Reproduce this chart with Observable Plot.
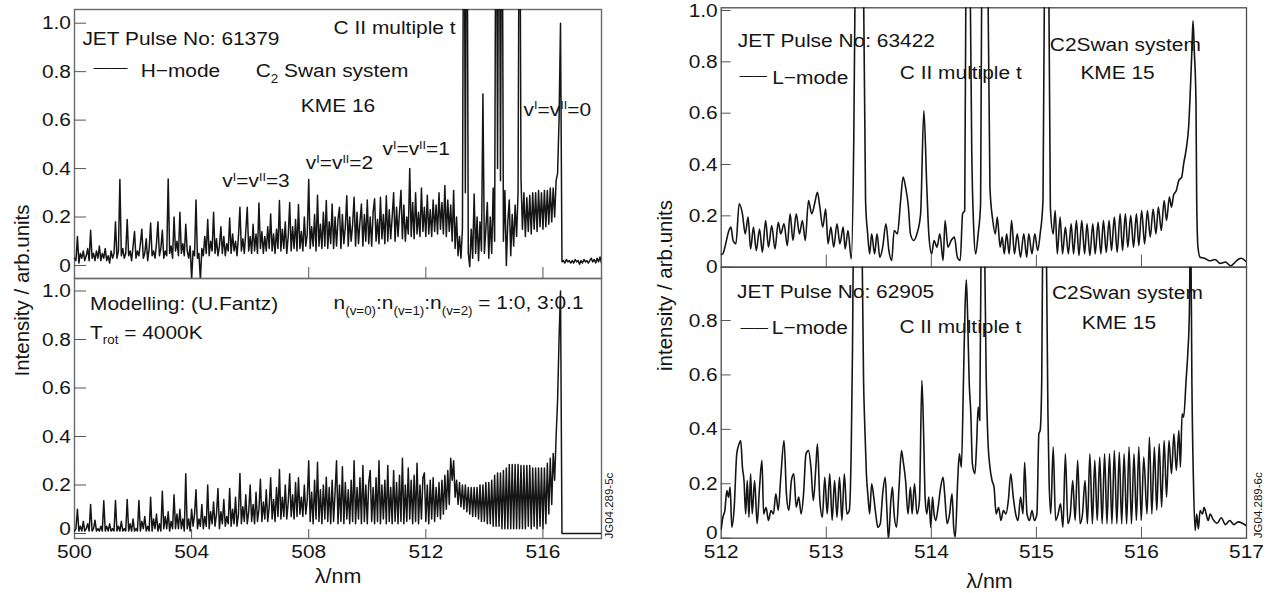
<!DOCTYPE html>
<html><head><meta charset="utf-8">
<script src="https://cdn.jsdelivr.net/npm/d3@7"></script>
<script src="https://cdn.jsdelivr.net/npm/@observablehq/plot@0.6"></script>
<style>
html,body{margin:0;padding:0;background:#fff;}
#chart{position:relative;width:1283px;height:593px;overflow:hidden;background:#fff;}
#chart svg{position:absolute;left:0;top:0;}
</style></head><body><div id="chart"></div>
<script>
// ---------- data ----------
// H-mode spectrum, JET pulse 61379 (sampled every 0.05 nm from 500 nm)
const hmodeStart = 500, hmodeStep = 0.05;
const hmode61379 = [
0.03,0.02,0.12,0.01,0.05,0.03,0.06,0.02,0.04,0.07,0.02,0.145,0.03,0.05,0.02,0.06,0.03,0.08,0.02,0.05,
0.03,0.07,0.02,0.04,0.01,0.06,0.03,0.05,0.18,0.03,0.06,0.355,0.04,0.07,0.03,0.05,0.19,0.04,0.06,0.02,
0.08,0.14,0.03,0.06,0.04,0.09,0.15,0.03,0.05,0.11,0.02,0.07,0.175,0.04,0.06,0.03,0.09,0.18,0.04,0.07,
0.145,0.03,0.06,0.04,0.357,0.05,0.08,0.03,0.20,0.06,0.10,0.04,0.22,0.05,0.09,0.04,0.17,0.06,0.03,0.08,
-0.055,0.06,0.04,0.27,0.03,0.05,-0.06,0.07,0.04,0.12,0.05,0.19,0.04,0.10,0.06,0.22,0.05,0.11,0.04,0.08,
0.16,0.05,0.12,0.04,0.09,0.06,0.196,0.05,0.13,0.06,0.10,0.04,0.12,0.24,0.06,0.11,0.05,0.14,0.24,0.06,
0.12,0.05,0.17,0.06,0.13,0.05,0.258,0.07,0.14,0.05,0.12,0.06,0.16,0.07,0.213,0.06,0.13,0.05,0.15,0.07,
0.268,0.06,0.15,0.07,0.18,0.05,0.12,0.26,0.06,0.16,0.07,0.19,0.06,0.252,0.07,0.14,0.06,0.20,0.08,0.13,
0.355,0.07,0.16,0.08,0.21,0.06,0.29,0.08,0.17,0.07,0.22,0.08,0.268,0.07,0.18,0.09,0.254,0.07,0.20,0.08,
0.19,0.24,0.07,0.21,0.09,0.16,0.288,0.08,0.20,0.10,0.17,0.282,0.08,0.22,0.09,0.18,0.254,0.08,0.21,0.10,
0.27,0.09,0.20,0.08,0.22,0.275,0.10,0.19,0.09,0.282,0.11,0.21,0.09,0.288,0.10,0.23,0.11,0.20,0.30,0.10,
0.24,0.12,0.22,0.31,0.11,0.25,0.10,0.20,0.13,0.40,0.12,0.26,0.11,0.30,0.13,0.22,0.12,0.32,0.14,0.24,
0.12,0.29,0.13,0.23,0.12,0.27,0.14,0.25,0.13,0.30,0.15,0.26,0.13,0.33,0.12,0.27,0.14,0.25,0.10,0.31,
0.07,0.20,0.04,0.12,0.03,0.15,2.0,0.30,2.0,0.05,-0.005,0.15,0.03,0.295,0.05,0.20,0.02,0.18,0.06,0.708,
0.05,0.15,0.26,0.03,0.20,0.05,0.32,0.10,2.0,0.40,2.0,0.35,2.0,0.10,0.31,0.0,0.18,0.27,0.04,0.21,
0.08,0.25,0.12,0.30,2.0,0.36,0.15,0.30,0.12,0.28,0.14,0.29,0.13,0.30,0.15,0.30,0.14,0.31,0.16,0.30,
0.15,0.31,0.16,0.31,0.17,0.32,0.18,0.32,0.20,0.35,0.38,0.60,1.0,0.015,0.02,0.01,0.025,0.015,0.02,0.01,
0.02,0.01,0.025,0.015,0.02,0.005,0.02,0.01,0.025,0.015,0.02,0.01,0.02,0.03,0.015,0.025,0.01,0.03,0.015,0.035,
0.01];

// Modelled spectrum (U.Fantz), sampled every 0.05 nm from 500 nm
const modelStart = 500, modelStep = 0.05;
const modelFantz = [
0.01,0.02,0.10,0.01,0.03,0.01,0.05,0.01,0.02,0.04,0.01,0.12,0.01,0.02,0.055,0.01,0.02,0.01,0.03,0.01,
0.135,0.01,0.03,0.01,0.04,0.01,0.02,0.01,0.136,0.01,0.03,0.01,0.05,0.01,0.02,0.01,0.14,0.01,0.04,0.01,
0.06,0.01,0.02,0.01,0.136,0.01,0.05,0.02,0.07,0.01,0.03,0.01,0.15,0.01,0.06,0.02,0.08,0.01,0.04,0.01,
0.174,0.02,0.07,0.02,0.09,0.01,0.05,0.02,0.16,0.02,0.08,0.02,0.10,0.02,0.06,0.01,0.246,0.02,0.06,0.01,
0.10,0.03,0.08,0.18,0.02,0.06,0.03,0.12,0.02,0.07,0.03,0.20,0.02,0.09,0.04,0.13,0.03,0.08,0.186,0.02,
0.09,0.04,0.14,0.03,0.07,0.04,0.186,0.03,0.10,0.04,0.15,0.03,0.08,0.247,0.04,0.11,0.05,0.16,0.04,0.09,
0.20,0.05,0.12,0.04,0.17,0.05,0.10,0.224,0.05,0.13,0.06,0.18,0.05,0.11,0.23,0.06,0.14,0.05,0.19,0.07,
0.264,0.06,0.15,0.07,0.20,0.06,0.13,0.246,0.07,0.16,0.06,0.21,0.07,0.23,0.08,0.15,0.07,0.20,0.08,0.14,
0.30,0.05,0.17,0.04,0.22,0.06,0.294,0.05,0.18,0.04,0.20,0.06,0.232,0.05,0.19,0.04,0.22,0.05,0.17,0.30,
0.04,0.20,0.05,0.275,0.04,0.21,0.06,0.18,0.04,0.22,0.05,0.30,0.04,0.19,0.06,0.23,0.04,0.28,0.05,0.20,
0.04,0.21,0.26,0.05,0.19,0.04,0.23,0.05,0.30,0.04,0.20,0.06,0.22,0.04,0.28,0.05,0.19,0.04,0.26,0.05,
0.21,0.04,0.24,0.05,0.31,0.04,0.20,0.05,0.27,0.06,0.22,0.04,0.24,0.05,0.29,0.04,0.20,0.06,0.23,0.25,
0.05,0.20,0.04,0.22,0.06,0.23,0.05,0.19,0.07,0.21,0.06,0.22,0.08,0.24,0.10,0.26,0.12,0.31,0.22,0.30,
0.15,0.22,0.12,0.21,0.11,0.20,0.10,0.20,0.09,0.19,0.08,0.19,0.07,0.19,0.07,0.19,0.06,0.20,0.05,0.20,
0.05,0.21,0.04,0.21,0.04,0.22,0.03,0.24,0.03,0.25,0.03,0.25,0.02,0.26,0.02,0.27,0.02,0.285,0.02,0.285,
0.02,0.285,0.02,0.285,0.02,0.28,0.02,0.28,0.02,0.28,0.03,0.28,0.02,0.27,0.03,0.27,0.02,0.27,0.03,0.27,
0.02,0.27,0.04,0.29,0.08,0.31,0.12,0.33,0.22,0.40,0.55,0.80,1.0,0,0,0,0,0,0,0,
0,0,0,0,0,0,0,0,0,0,0,0,0,0,0,0,0,0,0,0,
0];

// L-mode spectrum, JET pulse 63422: [wavelength nm, intensity]
const pulse63422 = [
[512.000,0.050],[512.016,0.052],[512.035,0.078],[512.074,0.143],[512.093,0.156],[512.113,0.104],[512.140,0.091],[512.171,0.247],[512.202,0.208],[512.229,0.130],
[512.256,0.195],[512.280,0.071],[512.307,0.156],[512.334,0.065],[512.365,0.149],[512.392,0.058],[512.423,0.182],[512.450,0.078],[512.481,0.162],[512.512,0.071],
[512.543,0.175],[512.567,0.130],[512.598,0.169],[512.629,0.084],[512.656,0.208],[512.683,0.104],[512.714,0.208],[512.745,0.130],[512.773,0.182],[512.800,0.104],
[512.831,0.260],[512.862,0.208],[512.889,0.247],[512.916,0.292],[512.939,0.234],[512.967,0.156],[512.994,0.227],[513.017,0.091],[513.044,0.156],[513.071,0.078],
[513.102,0.169],[513.130,0.091],[513.161,0.156],[513.180,0.071],[513.207,0.143],[513.238,0.032],[513.262,0.50],[513.285,1.6],[513.315,2.2],[513.345,1.6],
[513.374,0.260],[513.394,0.130],[513.413,0.052],[513.432,0.130],[513.460,0.052],[513.483,0.130],[513.510,0.039],[513.537,0.078],[513.568,0.169],[513.596,0.065],
[513.623,0.026],[513.646,0.143],[513.677,0.130],[513.708,0.260],[513.731,0.351],[513.755,0.312],[513.782,0.234],[513.801,0.130],[513.832,0.104],[513.863,0.130],
[513.898,0.208],[513.929,0.610],[513.957,0.312],[513.976,0.130],[514.003,0.052],[514.026,0.104],[514.054,0.078],[514.081,0.130],[514.112,0.026],[514.131,0.182],
[514.158,0.078],[514.189,0.104],[514.220,0.117],[514.248,0.039],[514.275,0.026],[514.298,0.208],[514.318,0.221],[514.333,1.5],[514.348,2.0],[514.364,1.4],
[514.385,0.45],[514.403,0.156],[514.422,0.052],[514.446,0.130],[514.469,0.247],[514.484,1.5],[514.508,2.0],[514.531,1.5],[514.558,0.312],[514.585,0.182],
[514.609,0.130],[514.628,0.195],[514.655,0.078],[514.675,0.117],[514.694,0.052],[514.717,0.130],[514.741,0.052],[514.764,0.182],[514.791,0.052],[514.818,0.130],
[514.849,0.039],[514.880,0.130],[514.908,0.039],[514.927,0.130],[514.958,0.052],[514.985,0.130],[515.012,0.065],[515.036,0.130],[515.063,0.260],[515.082,1.5],
[515.098,2.0],[515.113,1.5],[515.133,0.234],[515.160,0.130],[515.179,0.221],[515.199,0.052],[515.226,0.195],[515.249,0.052],[515.276,0.156],[515.304,0.052],
[515.331,0.169],[515.354,0.052],[515.381,0.182],[515.405,0.045],[515.432,0.182],[515.459,0.052],[515.482,0.169],[515.509,0.045],[515.537,0.169],[515.560,0.052],
[515.587,0.175],[515.614,0.052],[515.638,0.182],[515.665,0.058],[515.692,0.182],[515.715,0.065],[515.742,0.195],[515.769,0.058],[515.797,0.208],[515.820,0.065],
[515.847,0.208],[515.870,0.078],[515.898,0.201],[515.925,0.078],[515.952,0.208],[515.975,0.084],[516.002,0.221],[516.030,0.091],[516.057,0.221],[516.084,0.117],
[516.111,0.227],[516.138,0.130],[516.161,0.234],[516.189,0.143],[516.216,0.260],[516.239,0.182],[516.266,0.273],[516.286,0.234],[516.305,0.279],[516.332,0.299],
[516.356,0.338],[516.383,0.351],[516.402,0.403],[516.429,0.468],[516.449,0.545],[516.468,0.714],[516.480,0.844],[516.491,0.960],[516.503,0.844],[516.519,0.649],
[516.526,0.260],[516.538,0.078],[516.558,0.039],[516.600,0.035],[516.650,0.025],[516.700,0.030],[516.750,0.015],[516.800,0.020],[516.850,0.005],[516.880,0.015],
[516.920,0.030],[516.950,0.035],[517.000,0.020]];

// L-mode spectrum, JET pulse 62905: [wavelength nm, intensity]
const pulse62905 = [
[512.000,0.034],[512.016,0.077],[512.035,0.102],[512.054,0.175],[512.070,0.151],[512.085,0.188],[512.101,0.040],[512.124,0.114],[512.148,0.310],[512.171,0.347],
[512.186,0.359],[512.202,0.261],[512.217,0.212],[512.233,0.089],[512.248,0.212],[512.264,0.077],[512.280,0.237],[512.295,0.089],[512.318,0.212],[512.342,0.053],
[512.365,0.188],[512.388,0.286],[512.404,0.089],[512.427,0.114],[512.450,0.065],[512.474,0.102],[512.497,0.089],[512.520,0.163],[512.543,0.102],[512.567,0.224],
[512.598,0.359],[512.621,0.163],[512.644,0.102],[512.668,0.212],[512.691,0.237],[512.714,0.114],[512.738,0.151],[512.761,0.089],[512.784,0.163],[512.807,0.310],
[512.831,0.322],[512.854,0.261],[512.877,0.138],[512.901,0.261],[512.916,0.347],[512.939,0.138],[512.963,0.077],[512.986,0.224],[513.009,0.089],[513.033,0.237],
[513.056,0.065],[513.079,0.212],[513.102,0.077],[513.126,0.224],[513.149,0.065],[513.172,0.237],[513.196,0.089],[513.219,0.102],[513.238,0.335],[513.250,0.702],
[513.262,1.3],[513.297,2.0],[513.335,1.3],[513.355,0.580],[513.366,0.420],[513.382,0.237],[513.398,0.151],[513.413,0.089],[513.432,0.200],[513.452,0.151],
[513.471,0.089],[513.491,0.040],[513.514,0.053],[513.537,0.163],[513.561,0.224],[513.576,0.114],[513.592,-0.005],[513.615,0.138],[513.630,0.188],[513.646,0.089],
[513.669,0.040],[513.693,0.188],[513.716,0.322],[513.731,0.286],[513.755,0.212],[513.778,0.089],[513.801,0.188],[513.817,0.089],[513.840,0.200],[513.863,0.089],
[513.887,0.138],[513.910,0.580],[513.926,0.396],[513.941,0.151],[513.957,0.089],[513.976,0.151],[513.995,0.040],[514.011,0.151],[514.026,0.089],[514.042,0.065],
[514.065,0.114],[514.089,0.188],[514.112,0.224],[514.127,0.163],[514.151,0.053],[514.174,0.089],[514.197,0.163],[514.213,0.040],[514.228,0.004],[514.251,0.212],
[514.267,0.310],[514.286,0.261],[514.306,0.580],[514.321,0.849],[514.333,0.950],[514.345,0.825],[514.360,0.580],[514.376,0.457],[514.391,0.273],[514.415,0.237],
[514.430,0.335],[514.446,0.482],[514.461,0.433],[514.477,1.3],[514.489,2.0],[514.500,1.3],[514.523,0.580],[514.539,0.359],[514.558,0.261],[514.578,0.212],
[514.597,0.188],[514.617,0.089],[514.640,0.114],[514.663,0.065],[514.686,0.102],[514.710,0.089],[514.733,0.138],[514.756,0.237],[514.780,0.151],[514.803,0.089],
[514.826,0.065],[514.849,0.151],[514.873,0.089],[514.888,0.279],[514.911,0.089],[514.935,0.065],[514.958,0.102],[514.981,0.065],[515.005,0.089],[515.024,0.384],
[515.036,0.396],[515.051,0.580],[515.063,1.3],[515.075,2.0],[515.090,1.3],[515.110,0.457],[515.121,0.212],[515.137,0.089],[515.160,0.335],[515.183,0.065],
[515.207,0.089],[515.230,0.126],[515.253,0.040],[515.276,0.310],[515.300,0.053],[515.323,0.089],[515.346,0.212],[515.369,0.065],[515.393,0.286],[515.416,0.053],
[515.439,0.089],[515.463,0.212],[515.486,0.053],[515.509,0.310],[515.533,0.053],[515.556,0.286],[515.579,0.065],[515.603,0.298],[515.626,0.053],[515.649,0.310],
[515.672,0.053],[515.696,0.310],[515.719,0.053],[515.742,0.322],[515.766,0.053],[515.789,0.316],[515.812,0.053],[515.835,0.310],[515.859,0.053],[515.882,0.335],
[515.905,0.053],[515.929,0.310],[515.952,0.065],[515.975,0.335],[515.998,0.065],[516.022,0.298],[516.053,0.089],[516.076,0.371],[516.099,0.089],[516.123,0.335],
[516.146,0.102],[516.169,0.347],[516.192,0.114],[516.216,0.359],[516.239,0.151],[516.262,0.359],[516.286,0.237],[516.309,0.384],[516.332,0.249],[516.356,0.396],
[516.371,0.261],[516.387,0.457],[516.402,0.445],[516.425,0.580],[516.441,0.678],[516.456,0.825],[516.468,1.2],[516.480,0.580],[516.495,0.212],[516.511,0.028],
[516.526,0.089],[516.542,0.034],[516.558,0.102],[516.581,0.089],[516.597,0.114],[516.616,0.089],[516.635,0.065],[516.655,0.089],[516.680,0.070],[516.720,0.055],
[516.760,0.075],[516.800,0.050],[516.840,0.065],[516.880,0.050],[516.920,0.060],[516.960,0.055],[517.000,0.045]];

// tick values
const leftXTicks = [500, 504, 508, 512, 516];
const rightXTicks = [512, 513, 514, 515, 516, 517];
const yTicksFull = [0, 0.2, 0.4, 0.6, 0.8, 1.0];
const yTicksLower = [0, 0.2, 0.4, 0.6, 0.8];

// ---------- drawing ----------
const W = 1283, H = 593;
const FONT = "'Liberation Sans', Arial, Helvetica, sans-serif";
const SX = 1.1;          // horizontal glyph stretch seen in the picture
const FS = 19;           // base font size
const INK = "#151515";
const fmtY = d => d === 0 ? "0" : d.toFixed(1);
const fmtX = d => String(d);

const hmodeSeries = hmode61379.map((v, i) => ({x: hmodeStart + i * hmodeStep, y: v}));
const modelSeries = modelFantz.map((v, i) => ({x: modelStart + i * modelStep, y: v}));

function notes(list) {
  return list.map(n => Plot.text([n], {
    x: "x", y: "y", text: "t", textAnchor: "start", lineAnchor: "bottom",
    fontSize: n.fs || FS, fill: INK
  }));
}
// y tick labels; the "0" label of a lower panel sits slightly above its tick
function yLabels(ticks, raiseZero) {
  const common = {tickSize: 0, tickPadding: 3.5, tickFormat: fmtY, label: null, fontSize: FS};
  if (!raiseZero) return [Plot.axisY({...common, ticks})];
  return [
    Plot.axisY({...common, ticks: ticks.filter(d => d !== 0)}),
    Plot.axisY({...common, ticks: ticks.filter(d => d === 0), dy: -5})
  ];
}

function panel(geom, xDomain, yDomain, showX, marks) {
  const [l, r, t, b] = geom;
  return Plot.plot({
    width: W, height: H,
    marginLeft: l, marginRight: W - r, marginTop: t, marginBottom: H - b,
    x: showX ? {domain: xDomain} : {domain: xDomain, axis: null},
    y: {domain: yDomain},
    style: {background: "transparent", fontFamily: FONT, fontSize: FS + "px", color: INK, overflow: "visible"},
    marks
  });
}

// geometry [left, right, top, bottom] in px
const gLT = [74, 601, 9, 278];
const gLB = [74, 601, 278, 538];
const gRT = [720.7, 1246, 7.3, 266.7];
const gRB = [720.7, 1246, 266.7, 537.7];

const leftFrame = {stroke: "#6a6a6a", strokeWidth: 1.4};
const rightFrame = {stroke: "#4a4a4a", strokeWidth: 1.3};
const tickStroke = "#555";
const leftLine = {stroke: INK, strokeWidth: 1.5, strokeLinejoin: "round", clip: true};
const rightLine = {stroke: INK, strokeWidth: 1.6, curve: "monotone-x", clip: true};

const plots = [];

// left top : H-mode
plots.push(panel(gLT, [500, 518], [-0.0537, 1.0565], false, [
  Plot.frame(leftFrame),
  Plot.tickY(yTicksFull, {y: d => d, insetRight: (gLT[1] - gLT[0]) - 12, stroke: tickStroke}),
  Plot.tickX(leftXTicks.slice(1), {x: d => d, insetTop: (gLT[3] - gLT[2]) - 11, stroke: tickStroke}),
  ...yLabels(yTicksFull, false),
  Plot.line(hmodeSeries, {x: "x", y: "y", ...leftLine}),
  ...notes([
    {t: "JET Pulse No: 61379", x: 500.27, y: 0.908},
    {t: "——", x: 500.65, y: 0.7965, fs: 15.5},
    {t: "H−mode", x: 502.26, y: 0.777},
    {t: "C_{2} Swan system", x: 506.19, y: 0.777},
    {t: "KME 16", x: 507.73, y: 0.633},
    {t: "C II multiple t", x: 508.85, y: 0.956},
    {t: "v^{I}=v^{II}=3", x: 505.05, y: 0.323},
    {t: "v^{I}=v^{II}=2", x: 507.9, y: 0.399},
    {t: "v^{I}=v^{II}=1", x: 510.52, y: 0.454},
    {t: "v^{I}=v^{II}=0", x: 515.34, y: 0.619}
  ])
]));

// left bottom : modelling
plots.push(panel(gLB, [500, 518], [-0.0206, 1.0515], true, [
  Plot.frame(leftFrame),
  Plot.tickY(yTicksFull, {y: d => d, insetRight: (gLB[1] - gLB[0]) - 12, stroke: tickStroke}),
  Plot.tickX(leftXTicks.slice(1), {x: d => d, insetTop: (gLB[3] - gLB[2]) - 9, stroke: tickStroke}),
  ...yLabels(yTicksFull, true),
  Plot.axisX({ticks: leftXTicks, tickSize: 0, tickPadding: 6.5, tickFormat: fmtX, label: null, fontSize: FS}),
  Plot.line(modelSeries, {x: "x", y: "y", ...leftLine}),
  ...notes([
    {t: "Modelling: (U.Fantz)", x: 500.53, y: 0.92},
    {t: "T_{rot} = 4000K", x: 500.53, y: 0.804},
    {t: "n_{(v=0)}:n_{(v=1)}:n_{(v=2)} = 1:0, 3:0.1", x: 508.85, y: 0.924}
  ]),
  Plot.text(["Intensity / arb.units"], {frameAnchor: "left", rotate: -90, dx: -52, dy: -118, fontSize: 20.5, textAnchor: "middle", lineAnchor: "middle", fill: INK}),
  Plot.text(["λ/nm"], {frameAnchor: "bottom", dy: 44, fontSize: 19.5, textAnchor: "middle", lineAnchor: "bottom", fill: INK}),
  Plot.text(["JG04.289-5c"], {frameAnchor: "bottom-right", rotate: -90, dx: 8, fontSize: 11.5, textAnchor: "start", lineAnchor: "middle", fill: INK})
]));

// right top : pulse 63422
plots.push(panel(gRT, [512, 517], [0, 1.0105], false, [
  Plot.frame(rightFrame),
  Plot.tickY(yTicksFull, {y: d => d, insetRight: (gRT[1] - gRT[0]) - 10, stroke: tickStroke}),
  Plot.tickX(rightXTicks.slice(1, -1), {x: d => d, insetTop: (gRT[3] - gRT[2]) - 12, stroke: tickStroke}),
  ...yLabels(yTicksFull, false),
  Plot.line(pulse63422, {x: d => d[0], y: d => d[1], ...rightLine}),
  ...notes([
    {t: "JET Pulse No: 63422", x: 512.158, y: 0.857},
    {t: "——", x: 512.174, y: 0.729, fs: 12.5},
    {t: "L−mode", x: 512.485, y: 0.714},
    {t: "C II multiple t", x: 513.70, y: 0.734},
    {t: "C2Swan system", x: 515.128, y: 0.844},
    {t: "KME 15", x: 515.419, y: 0.734}
  ])
]));

// right bottom : pulse 62905
plots.push(panel(gRB, [512, 517], [0, 0.9959], true, [
  Plot.frame(rightFrame),
  Plot.tickY(yTicksLower, {y: d => d, insetRight: (gRB[1] - gRB[0]) - 10, stroke: tickStroke}),
  Plot.tickX(rightXTicks.slice(1, -1), {x: d => d, insetTop: (gRB[3] - gRB[2]) - 11, stroke: tickStroke}),
  ...yLabels(yTicksLower, true),
  Plot.axisX({ticks: rightXTicks, tickSize: 0, tickPadding: 6, tickFormat: fmtX, label: null, fontSize: FS}),
  Plot.line(pulse62905, {x: d => d[0], y: d => d[1], ...rightLine}),
  ...notes([
    {t: "JET Pulse No: 62905", x: 512.151, y: 0.884},
    {t: "——", x: 512.184, y: 0.757, fs: 12.5},
    {t: "L−mode", x: 512.482, y: 0.751},
    {t: "C II multiple t", x: 513.696, y: 0.754},
    {t: "C2Swan system", x: 515.148, y: 0.880},
    {t: "KME 15", x: 515.432, y: 0.770}
  ]),
  Plot.text(["intensity / arb.units"], {frameAnchor: "left", rotate: -90, dx: -55.7, dy: -117.2, fontSize: 20.5, textAnchor: "middle", lineAnchor: "middle", fill: INK}),
  Plot.text(["λ/nm"], {frameAnchor: "bottom", dx: 5.6, dy: 49.3, fontSize: 19.5, textAnchor: "middle", lineAnchor: "bottom", fill: INK}),
  Plot.text(["JG04.289-6c"], {frameAnchor: "bottom-right", rotate: -90, dx: 12, fontSize: 11.5, textAnchor: "start", lineAnchor: "middle", fill: INK})
]));

const chart = document.getElementById("chart");
plots.forEach(p => chart.appendChild(p));

// sub/superscript markup -> tspans
const NS = "http://www.w3.org/2000/svg";
function richify(svg) {
  svg.querySelectorAll("text").forEach(el => {
    const s = el.textContent;
    if (!/[_^]\{/.test(s)) return;
    const fs = parseFloat(getComputedStyle(el).fontSize) || FS;
    while (el.firstChild) el.removeChild(el.firstChild);
    const re = /([_^])\{([^}]*)\}/g;
    let last = 0, m, shift = 0;
    const add = (txt, target, size) => {
      const t = document.createElementNS(NS, "tspan");
      const d = target - shift;
      if (d) t.setAttribute("dy", d.toFixed(2));
      if (size) t.setAttribute("font-size", size.toFixed(2));
      t.textContent = txt;
      el.appendChild(t);
      shift = target;
    };
    while ((m = re.exec(s))) {
      if (m.index > last) add(s.slice(last, m.index), 0);
      if (m[1] === "_") add(m[2], 0.28 * fs, 0.64 * fs);
      else add(m[2], -0.32 * fs, 0.6 * fs);
      last = re.lastIndex;
    }
    if (last < s.length) add(s.slice(last), 0);
  });
}
// horizontal glyph stretch about each text's anchor (non-rotated text only);
// only x matters for a horizontal scale, so y (often in em) is left untouched
function stretch(svg, s) {
  svg.querySelectorAll("text").forEach(el => {
    const t = el.getAttribute("transform") || "";
    if (/rotate/.test(t)) return;
    const xa = el.getAttribute("x");
    let x = 0;
    if (xa) {
      const fs = parseFloat(getComputedStyle(el).fontSize) || FS;
      x = parseFloat(xa) * (/em$/.test(xa) ? fs : 1) || 0;
    }
    const sc = x ? ` translate(${x},0) scale(${s},1) translate(${-x},0)` : ` scale(${s},1)`;
    el.setAttribute("transform", (t + sc).trim());
  });
}
plots.forEach(p => { richify(p); stretch(p, SX); });
</script>
</body></html>
